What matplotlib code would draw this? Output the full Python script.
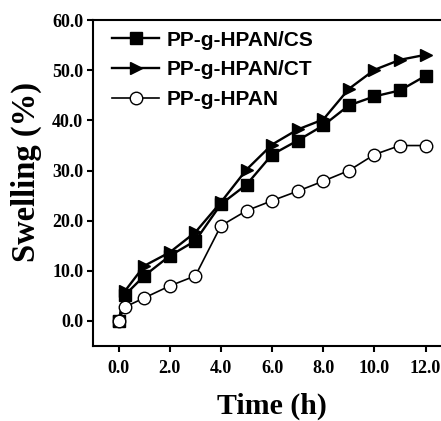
import matplotlib
matplotlib.use('Agg')
import matplotlib.pyplot as plt

# swelling (%) vs time (h)
time = [0, 0.25, 1, 2, 3, 4, 5, 6, 7, 8, 9, 10, 11, 12]
swell_cs = [0, 5.2, 9, 13, 16, 23.3, 27.2, 33.2, 36, 39, 43, 44.8, 46, 48.9]
swell_ct = [0, 6, 11, 13.7, 17.7, 23.7, 30.2, 35.2, 38.2, 40.2, 46.3, 50.1, 52.1, 53.1]
swell_hpan = [0, 2.8, 4.6, 7, 9, 19, 22, 24, 25.9, 27.9, 30, 33.2, 35, 35]
labels = ['PP-g-HPAN/CS', 'PP-g-HPAN/CT', 'PP-g-HPAN']
xticks = [0, 2, 4, 6, 8, 10, 12]
yticks = [0, 10, 20, 30, 40, 50, 60]

fig = plt.figure(figsize=(4.41, 4.21), dpi=100)
ax = fig.add_axes([0.211, 0.178, 0.812, 0.774])

ax.plot(time, swell_cs, 'k-', marker='s', ms=8, lw=1.7, label=labels[0])
ax.plot(time, swell_ct, 'k-', marker='>', ms=9, lw=1.7, label=labels[1])
ax.plot(time, swell_hpan, 'k-', marker='o', ms=9, lw=1.2,
        mfc='white', mec='black', mew=1.0, label=labels[2])

ax.set_xlim(-1, 13)
ax.set_ylim(-5, 60)
ax.set_xticks(xticks)
ax.set_xticklabels(['%.1f' % v for v in xticks])
ax.set_yticks(yticks)
ax.set_yticklabels(['%.1f' % v for v in yticks])

for lab in ax.get_xticklabels() + ax.get_yticklabels():
    lab.set_fontfamily('Liberation Serif')
    lab.set_fontweight('bold')
    lab.set_fontsize(13)

ax.tick_params(direction='out', length=4, width=1.5)
ax.tick_params(axis='x', top=False, pad=6)
ax.tick_params(axis='y', right=False, pad=3)
for s in ['left', 'bottom', 'top']:
    ax.spines[s].set_linewidth(1.5)
ax.spines['right'].set_visible(False)

ax.set_xlabel('Time (h)', fontfamily='Liberation Serif', fontweight='bold',
              fontsize=21.5, labelpad=11)
ax.set_ylabel('Swelling (%)', fontfamily='Liberation Serif', fontweight='bold',
              fontsize=23.5)
ax.yaxis.set_label_coords(-0.142, 0.534)

leg = ax.legend(loc='upper left', frameon=False, handlelength=2.25,
                handletextpad=0.33, labelspacing=0.52, borderaxespad=0.1,
                bbox_to_anchor=(0.025, 1.0),
                prop={'family': 'Liberation Sans', 'weight': 'bold', 'size': 15})

fig.savefig('out.png', dpi=100)
